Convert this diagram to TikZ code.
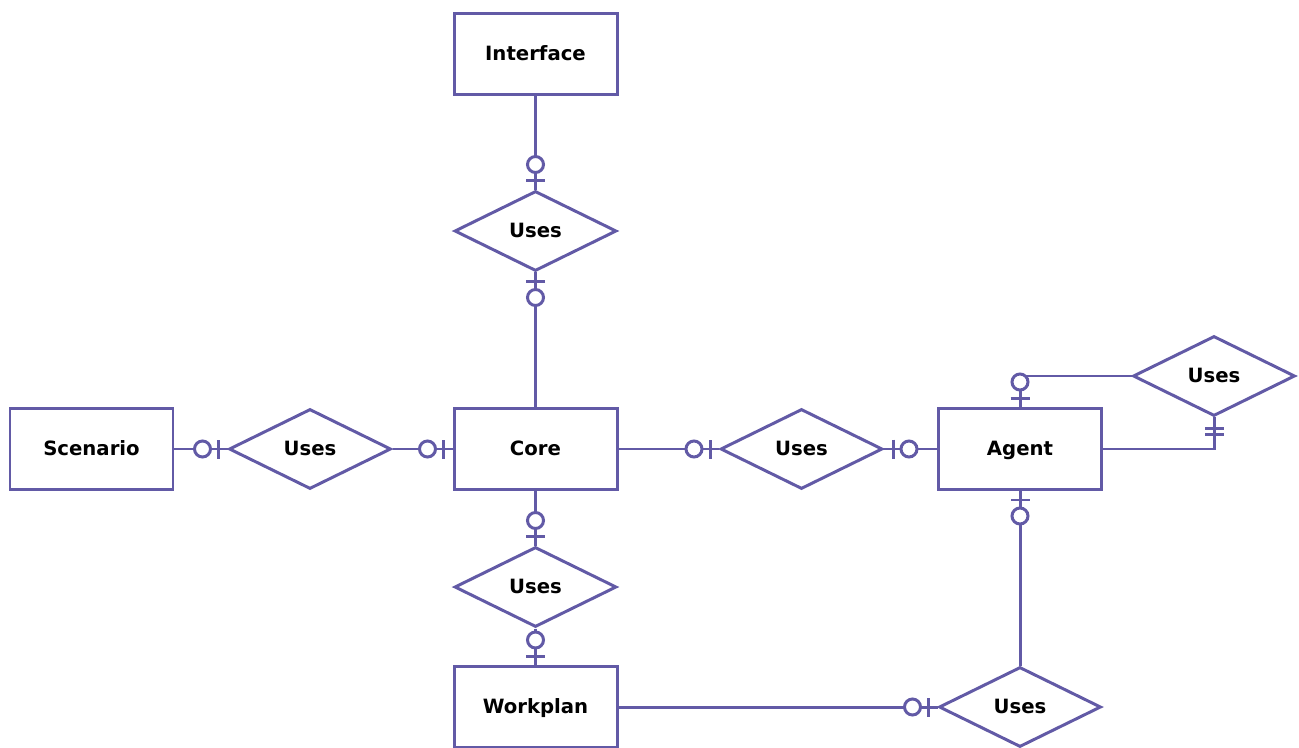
\documentclass[tikz,border=0pt]{standalone}
\usepackage{fontspec}
\setmainfont{DejaVu Sans}
\usepackage{tikz}
\usetikzlibrary{shapes.geometric}
\definecolor{erpurple}{RGB}{98, 90, 166}

\tikzset{
  erline/.style={draw=erpurple, line width=1.7pt},
  erfont/.style={font=\bfseries\fontsize{11.2}{13}\selectfont,
    text height=0.74em, text depth=0.02em},
  entity/.style={erline, erfont, rectangle, fill=white,
    minimum width=3.26cm, minimum height=1.62cm},
  relation/.style={erline, erfont, diamond, fill=white, inner sep=1pt,
    minimum width=3.24cm, minimum height=1.6cm},
  atend/.style={pos=1, sloped, allow upside down},
  % zero or one
  zeroone/.pic={
    \draw[erline] (-0.18,-0.19) -- (-0.18,0.19);
    \draw[erline, fill=white] (-0.5,0) circle (0.16);
  },
  % exactly one
  mandone/.pic={
    \draw[erline] (-0.22,-0.19) -- (-0.22,0.19);
    \draw[erline] (-0.34,-0.19) -- (-0.34,0.19);
  }
}

\begin{document}
\begin{tikzpicture}
        \useasboundingbox (0,0) rectangle (25.98,14.94);

        \node[entity] (iface) at (10.71, 13.86) {Interface};
        \node[relation] (usesiface) at (10.71, 10.32) {Uses};
        \node[entity] (core) at (10.71, 5.96) {Core};
        \node[entity] (scenario) at (1.83, 5.96) {Scenario};
        \node[relation] (usesscen) at (6.20, 5.96) {Uses};
        \node[relation] (usesagent) at (16.03, 5.96) {Uses};
        \node[entity] (agent) at (20.40, 5.96) {Agent};
        \node[relation] (usesself) at (24.28, 7.42) {Uses};
        \node[relation] (useswork) at (10.71, 3.20) {Uses};
        \node[entity] (workplan) at (10.71, 0.80) {Workplan};
        \node[relation] (usesplan) at (20.40, 0.80) {Uses};

        \draw[erline] (iface) -- (usesiface) pic[atend]{zeroone};
        \draw[erline] (core) -- (usesiface) pic[atend]{zeroone};
        \draw[erline] (scenario) -- (usesscen) pic[atend]{zeroone};
        \draw[erline] (usesscen) -- (core) pic[atend]{zeroone};
        \draw[erline] (core) -- (usesagent) pic[atend]{zeroone};
        \draw[erline] (agent) -- (usesagent) pic[atend]{zeroone};
        \draw[erline] (usesself.west) -| (agent.north) pic[atend]{zeroone};
        \draw[erline] (agent.east) -| (usesself.south) pic[atend]{mandone};
        \draw[erline] (usesplan) -- (agent) pic[atend]{zeroone};
        \draw[erline] (core) -- (useswork) pic[atend]{zeroone};
        \draw[erline] (useswork) -- (workplan) pic[atend]{zeroone};
        \draw[erline] (workplan) -- (usesplan) pic[atend]{zeroone};
      \end{tikzpicture}
\end{document}
